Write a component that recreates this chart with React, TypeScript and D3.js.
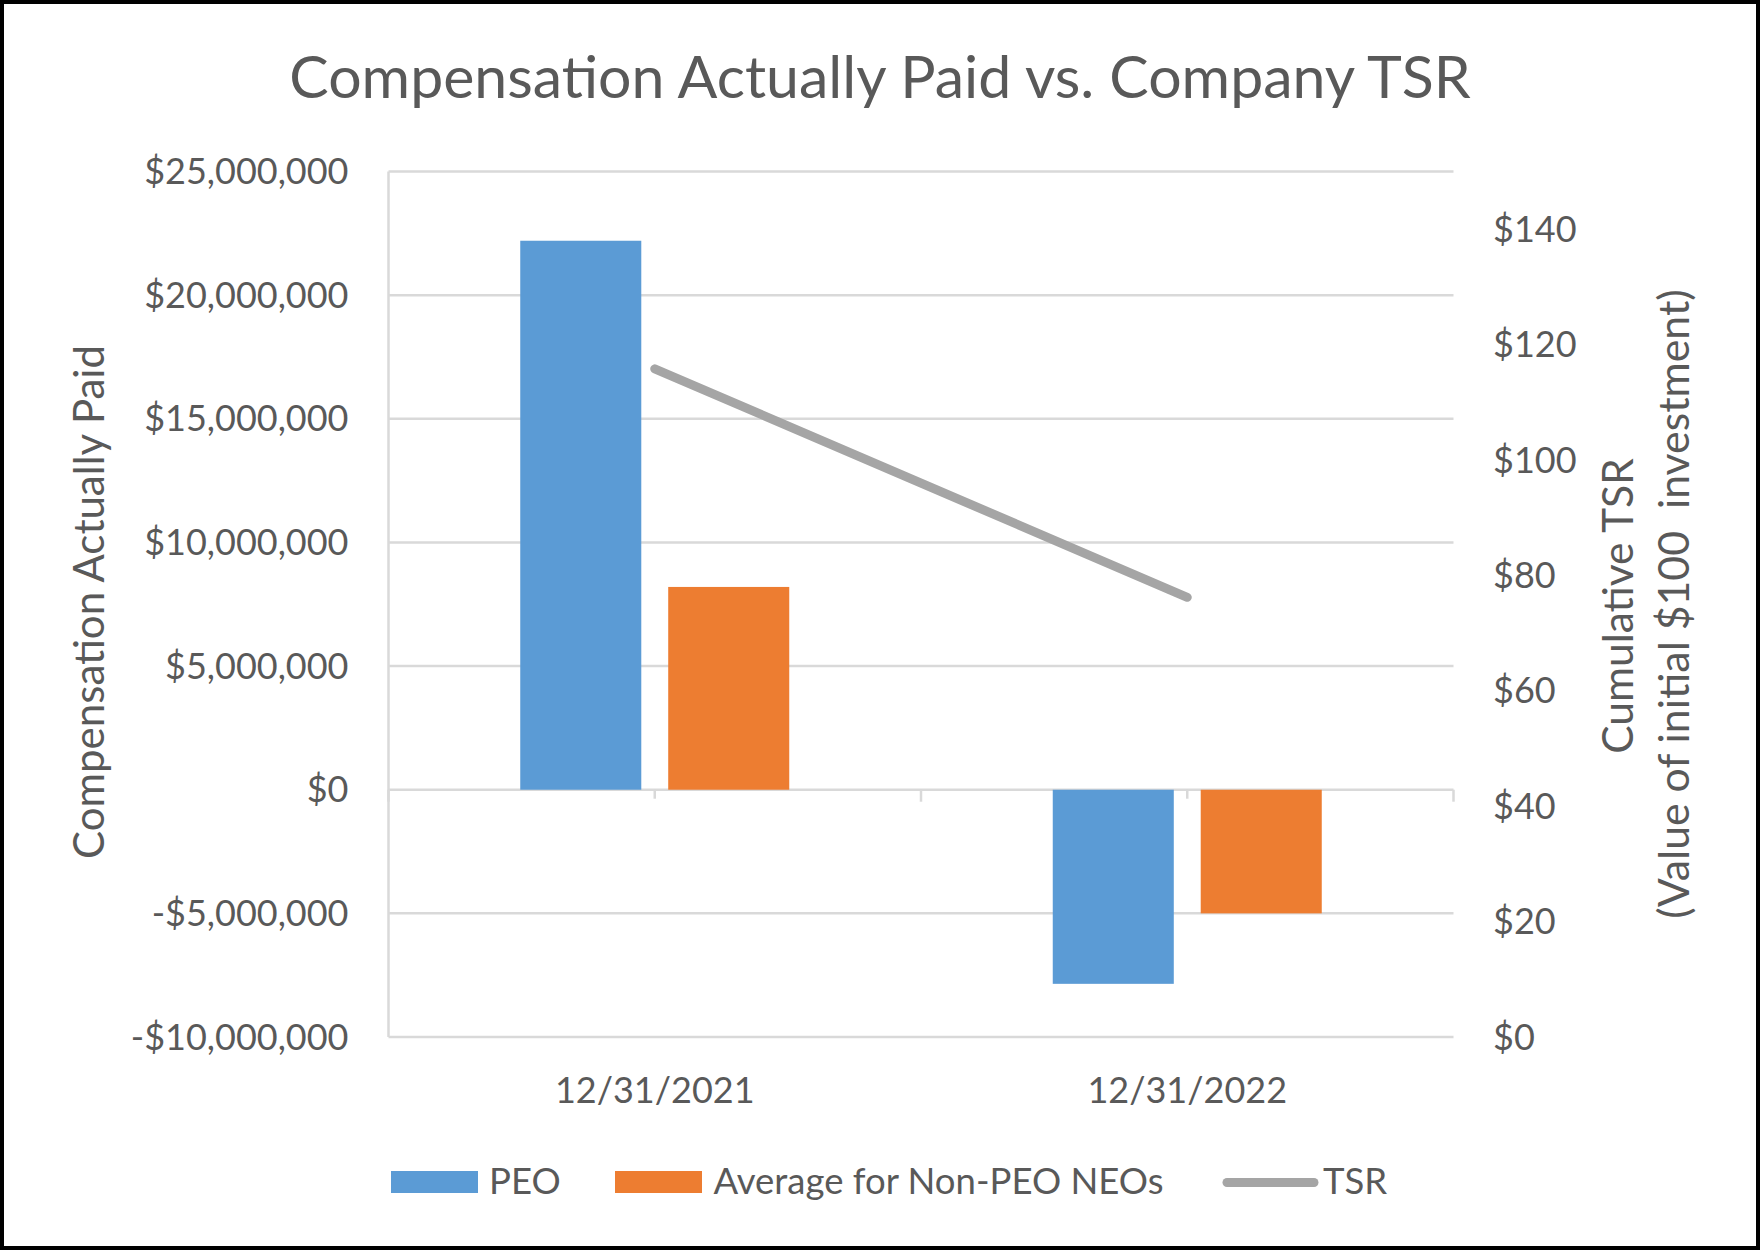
import { line, scaleBand, scaleLinear } from 'd3';

const categories = ['12/31/2021', '12/31/2022'];
const seriesNames = ['PEO', 'Average for Non-PEO NEOs'];
const peoValues = [22200000, -7850000];
const nonPeoValues = [8200000, -5000000];
const tsrValues = [115.8, 76.2];
const leftTicks = [-10000000, -5000000, 0, 5000000, 10000000, 15000000, 20000000, 25000000];
const rightTicks = [0, 20, 40, 60, 80, 100, 120, 140];

const W = 1760;
const H = 1250;
const margin = { top: 171.5, right: 306.5, bottom: 213, left: 388.5 };
const innerW = W - margin.left - margin.right;
const innerH = H - margin.top - margin.bottom;

const FONT = 'Lato, "Noto Sans", sans-serif';
const TEXT = '#595959';
const GRID = '#D9D9D9';
const COLORS = ['#5B9BD5', '#ED7D31'];
const TSR_COLOR = '#A5A5A5';

const fmtMoney = (v: number) =>
  (v < 0 ? '-$' : '$') + Math.abs(v).toLocaleString('en-US');

export default function App() {
  const x0 = scaleBand().domain(categories).range([0, innerW]);
  const groupW = 269;
  const x1 = scaleBand().domain(seriesNames).range([0, groupW]).paddingInner(0.182);
  const yLeft = scaleLinear().domain([-10000000, 25000000]).range([innerH, 0]);
  const yRight = scaleLinear().domain([0, 150]).range([innerH, 0]);

  const barSeries = [peoValues, nonPeoValues];
  const catCenter = (c: string) => (x0(c) ?? 0) + x0.bandwidth() / 2;

  const tsrPath = line<number>()
    .x((_, i) => catCenter(categories[i]))
    .y((d) => yRight(d))(tsrValues);

  const zero = yLeft(0);

  return (
    <svg
      width={W}
      height={H}
      style={{ position: 'absolute', left: 0, top: 0, background: '#fff' }}
      fontFamily={FONT}
    >
      <rect x={0} y={0} width={W} height={H} fill="#fff" />

      <text x={880} y={98} textAnchor="middle" fontSize={59} fill={TEXT}>
        Compensation Actually Paid vs. Company TSR
      </text>

      <g transform={`translate(${margin.left}, ${margin.top})`}>
        {leftTicks.map((t) => (
          <line key={`g-${t}`} x1={0} x2={innerW} y1={yLeft(t)} y2={yLeft(t)} stroke={GRID} strokeWidth={2.5} />
        ))}
        <line x1={0} x2={0} y1={0} y2={innerH} stroke={GRID} strokeWidth={2.5} />

        {leftTicks.map((t) => (
          <text
            key={`l-${t}`}
            x={-40}
            y={yLeft(t)}
            dy="0.35em"
            textAnchor="end"
            fontSize={36}
            fill={TEXT}
          >
            {fmtMoney(t)}
          </text>
        ))}

        {rightTicks.map((t) => (
          <text
            key={`r-${t}`}
            x={innerW + 39.5}
            y={yRight(t)}
            dy="0.35em"
            textAnchor="start"
            fontSize={36}
            fill={TEXT}
          >
            {`$${t}`}
          </text>
        ))}

        {barSeries.map((vals, s) =>
          vals.map((v, i) => {
            const c = categories[i];
            const bx = (x0(c) ?? 0) + (x0.bandwidth() - groupW) / 2 + (x1(seriesNames[s]) ?? 0);
            return (
              <rect
                key={`b-${s}-${i}`}
                x={bx}
                y={Math.min(yLeft(v), zero)}
                width={x1.bandwidth()}
                height={Math.abs(yLeft(v) - zero)}
                fill={COLORS[s]}
              />
            );
          }),
        )}

        {/* category axis ticks on the zero line */}
        {[...categories.map((c) => x0(c) ?? 0), innerW].map((tx, i) => (
          <line key={`tb-${i}`} x1={tx} x2={tx} y1={zero} y2={zero + 12} stroke={GRID} strokeWidth={2.5} />
        ))}
        {categories.map((c) => (
          <line key={`tc-${c}`} x1={catCenter(c)} x2={catCenter(c)} y1={zero} y2={zero + 9} stroke={GRID} strokeWidth={2.5} />
        ))}

        <path d={tsrPath ?? ''} fill="none" stroke={TSR_COLOR} strokeWidth={9} strokeLinecap="round" />

        {categories.map((c) => (
          <text key={`x-${c}`} x={catCenter(c)} y={innerH + 65.5} textAnchor="middle" fontSize={36} fill={TEXT}>
            {c}
          </text>
        ))}
      </g>

      <text transform="translate(104, 602) rotate(-90)" textAnchor="middle" fontSize={42} fill={TEXT}>
        Compensation Actually Paid
      </text>
      <text transform="translate(1633, 606) rotate(-90)" textAnchor="middle" fontSize={42.5} fill={TEXT}>
        Cumulative TSR
      </text>
      <text
        transform="translate(1689, 604) rotate(-90)"
        textAnchor="middle"
        fontSize={42.8}
        fill={TEXT}
        style={{ whiteSpace: 'pre' }}
      >
        (Value of initial $100  investment)
      </text>

      {/* legend */}
      <g fontSize={36.5} fill={TEXT}>
        <rect x={391} y={1171} width={87} height={22} fill={COLORS[0]} />
        <text x={489} y={1194}>{seriesNames[0]}</text>
        <rect x={615} y={1171} width={87} height={22} fill={COLORS[1]} />
        <text x={713.5} y={1194}>{seriesNames[1]}</text>
        <line x1={1227} x2={1314} y1={1182.5} y2={1182.5} stroke={TSR_COLOR} strokeWidth={9} strokeLinecap="round" />
        <text x={1323} y={1194}>TSR</text>
      </g>

      <rect x={2} y={2} width={W - 4} height={H - 4} fill="none" stroke="#000" strokeWidth={4} />
    </svg>
  );
}
